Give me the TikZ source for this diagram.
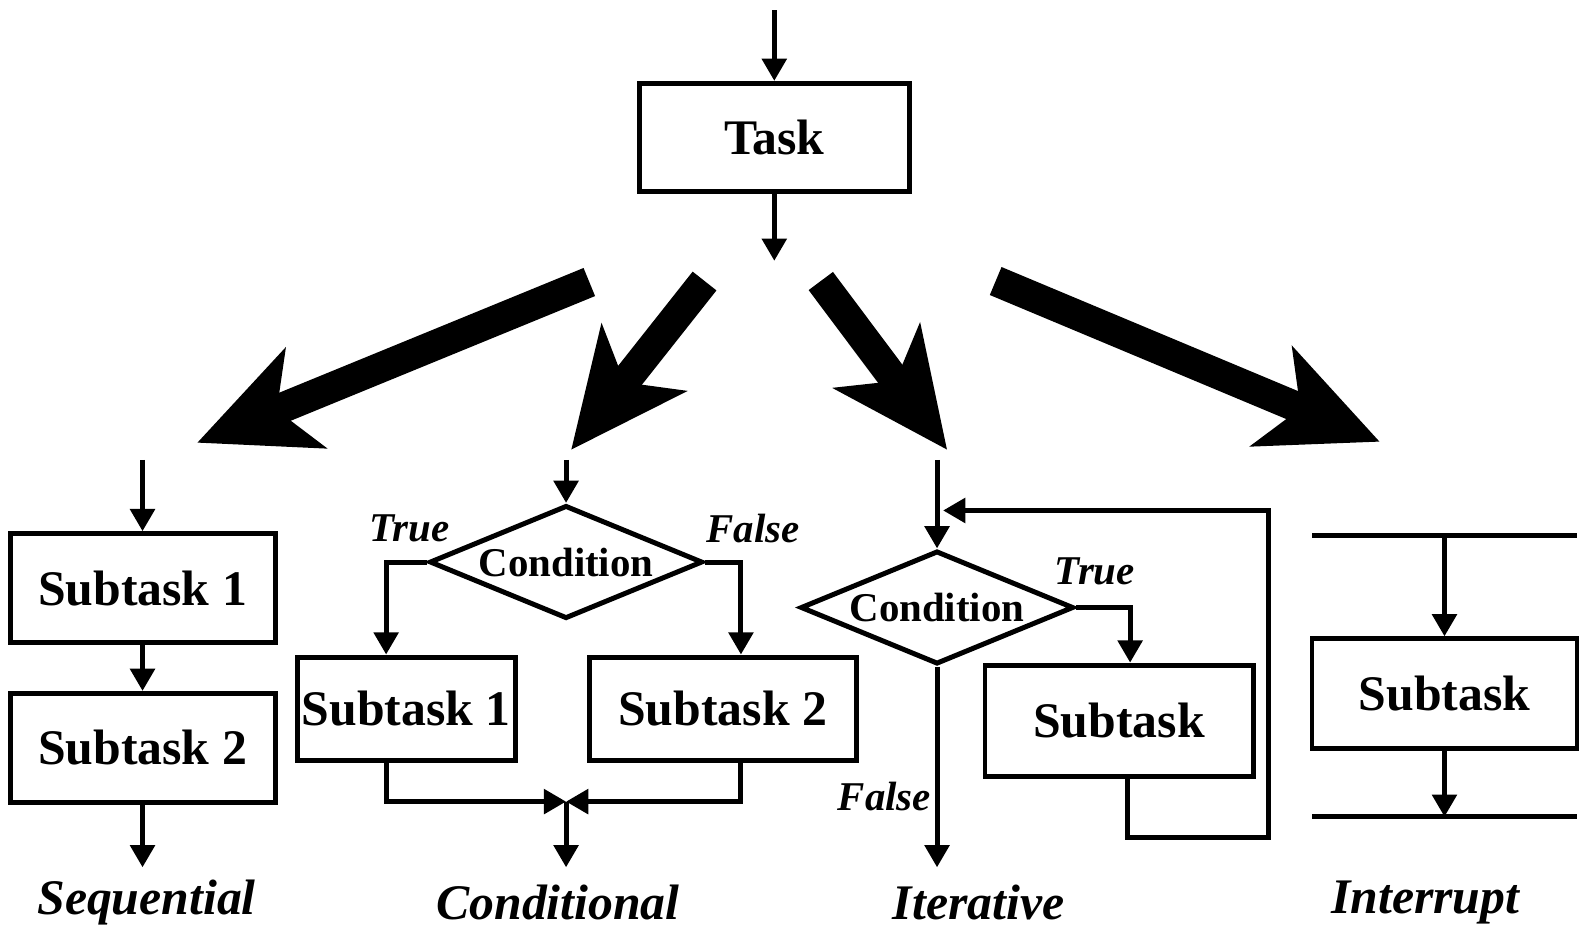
\documentclass[tikz,border=0pt]{standalone}
\usepackage{fontspec}
\setmainfont{Liberation Serif}
\usetikzlibrary{arrows.meta,shapes.geometric,positioning}

\tikzset{
	box/.style={draw, line width=1.4pt, minimum width=2.62cm, minimum height=1.08cm, inner sep=0pt, font=\fontsize{14}{16}\selectfont\bfseries},
	cond/.style={draw, diamond, aspect=2.4, line width=1.4pt, minimum width=2.7cm, minimum height=1.12cm, inner sep=0pt, font=\fontsize{11.5}{13}\selectfont\bfseries},
	flow/.style={line width=1.4pt, -{Triangle[length=0.22cm,width=0.24cm]}},
	rule/.style={line width=1.4pt},
	big/.style={line width=0.3cm, -{Stealth[length=1.15cm,width=1.05cm,inset=0.3cm]}},
	lbl/.style={font=\fontsize{11.5}{13}\selectfont\bfseries\itshape},
	kind/.style={font=\fontsize{14}{16}\selectfont\bfseries\itshape},
}

\begin{document}
\begin{tikzpicture}[x=0.01cm, y=-0.01cm]
	\useasboundingbox (0, 0) rectangle (1568, 930);

	\node[box, minimum width=2.67cm, minimum height=1.07cm] (task) at (766, 136) {Task};
	\coordinate (in) at (766, 10);
	\coordinate (fan) at (766, 258);
	\draw[flow] (in) -- (task.north);
	\draw[flow] (task.south) -- (fan);

	% fan-out
	\draw[big] (583, 279) -- (195, 438);
	\draw[big] (697, 278) -- (565, 445);
	\draw[big] (812, 278) -- (937, 445);
	\draw[big] (985, 278) -- (1365, 437);

	% sequential
	\node[box] (seqA) at (141, 582) {Subtask 1};
	\node[box] (seqB) at (141, 740) {Subtask 2};
	\coordinate (seqin) at (141, 455);
	\coordinate (seqout) at (141, 858);
	\draw[flow] (seqin) -- (seqA);
	\draw[flow] (seqA) -- (seqB);
	\draw[flow] (seqB) -- (seqout);
	\node[kind] (seqlbl) at (145, 893) {Sequential};

	% conditional
	\node[cond] (condD) at (560, 556) {Condition};
	\node[box, minimum width=2.15cm, minimum height=1.02cm] (condA) at (402, 701) {Subtask 1};
	\node[box, minimum width=2.64cm, minimum height=1.02cm] (condB) at (715, 701) {Subtask 2};
	\coordinate (condin) at (560, 455);
	\coordinate (merge) at (560, 793);
	\coordinate (condout) at (560, 858);
	\draw[flow] (condin) -- (condD.north);
	\draw[flow] (condD.west) -| ([xshift=-0.2cm]condA.north);
	\draw[flow] (condD.east) -| ([xshift=0.18cm]condB.north);
	\draw[flow] ([xshift=-0.2cm]condA.south) |- (merge);
	\draw[flow] ([xshift=0.18cm]condB.south) |- (merge);
	\draw[flow] (merge) -- (condout);
	\node[lbl] (ctrue) at (405, 523) {True};
	\node[lbl] (cfalse) at (745, 523) {False};
	\node[kind] (condlbl) at (552, 893) {Conditional};

	% iterative
	\node[cond] (iterD) at (927, 601) {Condition};
	\node[box, minimum width=2.65cm, minimum height=1.1cm] (iterS) at (1107, 713) {Subtask};
	\coordinate (iterin) at (927, 455);
	\coordinate (iterout) at (927, 858);
	\coordinate (loop) at (933, 505);
	\draw[flow] (iterin) -- (iterD.north);
	\draw[flow] (iterD.east) -| ([xshift=0.11cm]iterS.north);
	\draw[flow] (iterD.south) -- (iterout);
	\draw[flow] ([xshift=0.08cm]iterS.south) -- ++(0, 58) -| (1255, 505) -- (loop);
	\node[lbl] (itrue) at (1083, 565) {True};
	\node[lbl] (ifalse) at (875, 788) {False};
	\node[kind] (iterlbl) at (968, 893) {Iterative};

	% interrupt
	\node[box] (intS) at (1429, 686) {Subtask};
	\coordinate (intTL) at (1298, 530);
	\coordinate (intTR) at (1560, 530);
	\coordinate (intBL) at (1298, 808);
	\coordinate (intBR) at (1560, 808);
	\coordinate (intin) at (1429, 530);
	\coordinate (intout) at (1429, 808);
	\draw[rule] (intTL) -- (intTR);
	\draw[rule] (intBL) -- (intBR);
	\draw[flow] (intin) -- (intS.north);
	\draw[flow] (intS.south) -- (intout);
	\node[kind] (intlbl) at (1410, 893) {Interrupt};
\end{tikzpicture}
\end{document}
